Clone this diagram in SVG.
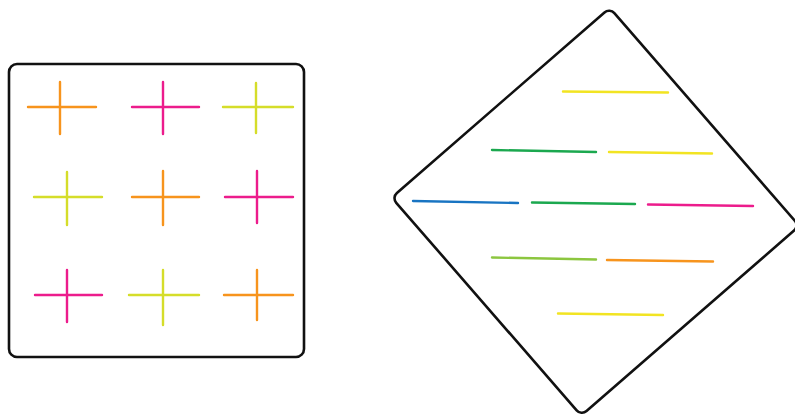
<svg xmlns="http://www.w3.org/2000/svg" width="795" height="419" viewBox="0 0 795 419">
  <style>
    .frame { fill: none; stroke: #111; stroke-width: 2.6; }
    .mk { fill: none; stroke-width: 2.4; stroke-linecap: round; }
    .or { stroke: #F7941D; }
    .mg { stroke: #EC1C8C; }
    .yg { stroke: #D5DD2A; }
    .ye { stroke: #F2E422; }
    .gr { stroke: #1BA84F; }
    .lg { stroke: #8CC63F; }
    .bl { stroke: #1874C2; }
  </style>
  <rect width="795" height="419" fill="#ffffff"/>
  <g id="square-panel">
    <rect class="frame" x="9" y="64" width="295" height="293" rx="8"/>
    <g id="crosses">
      <path class="mk or" d="M28 107H96M60 82V134"/>
      <path class="mk mg" d="M132 107H199M163 82V134"/>
      <path class="mk yg" d="M223 107H293M256 83V133"/>
      <path class="mk yg" d="M34 197H102M67 172V225"/>
      <path class="mk or" d="M132 197H199M163 171V225"/>
      <path class="mk mg" d="M225 197H293M257 171V223"/>
      <path class="mk mg" d="M35 295H102M67 270V322"/>
      <path class="mk yg" d="M129 295H199M163 270V325"/>
      <path class="mk or" d="M224 295H293M257 270V320"/>
    </g>
  </g>
  <g id="diamond-panel">
    <rect class="frame" x="451" y="67.25" width="289" height="289" rx="7" transform="rotate(49 595.5 211.75)"/>
    <g id="lines">
      <path class="mk ye" d="M563 91.5L668 92.5"/>
      <path class="mk gr" d="M492 150L596 152"/>
      <path class="mk ye" d="M609 152L712 153.5"/>
      <path class="mk bl" d="M413 201L518 203"/>
      <path class="mk gr" d="M532 202.5L635 204"/>
      <path class="mk mg" d="M648 204.5L753 206"/>
      <path class="mk lg" d="M492 257.5L596 259.5"/>
      <path class="mk or" d="M607 260L713 261.5"/>
      <path class="mk ye" d="M558 313.5L663 315"/>
    </g>
  </g>
</svg>
